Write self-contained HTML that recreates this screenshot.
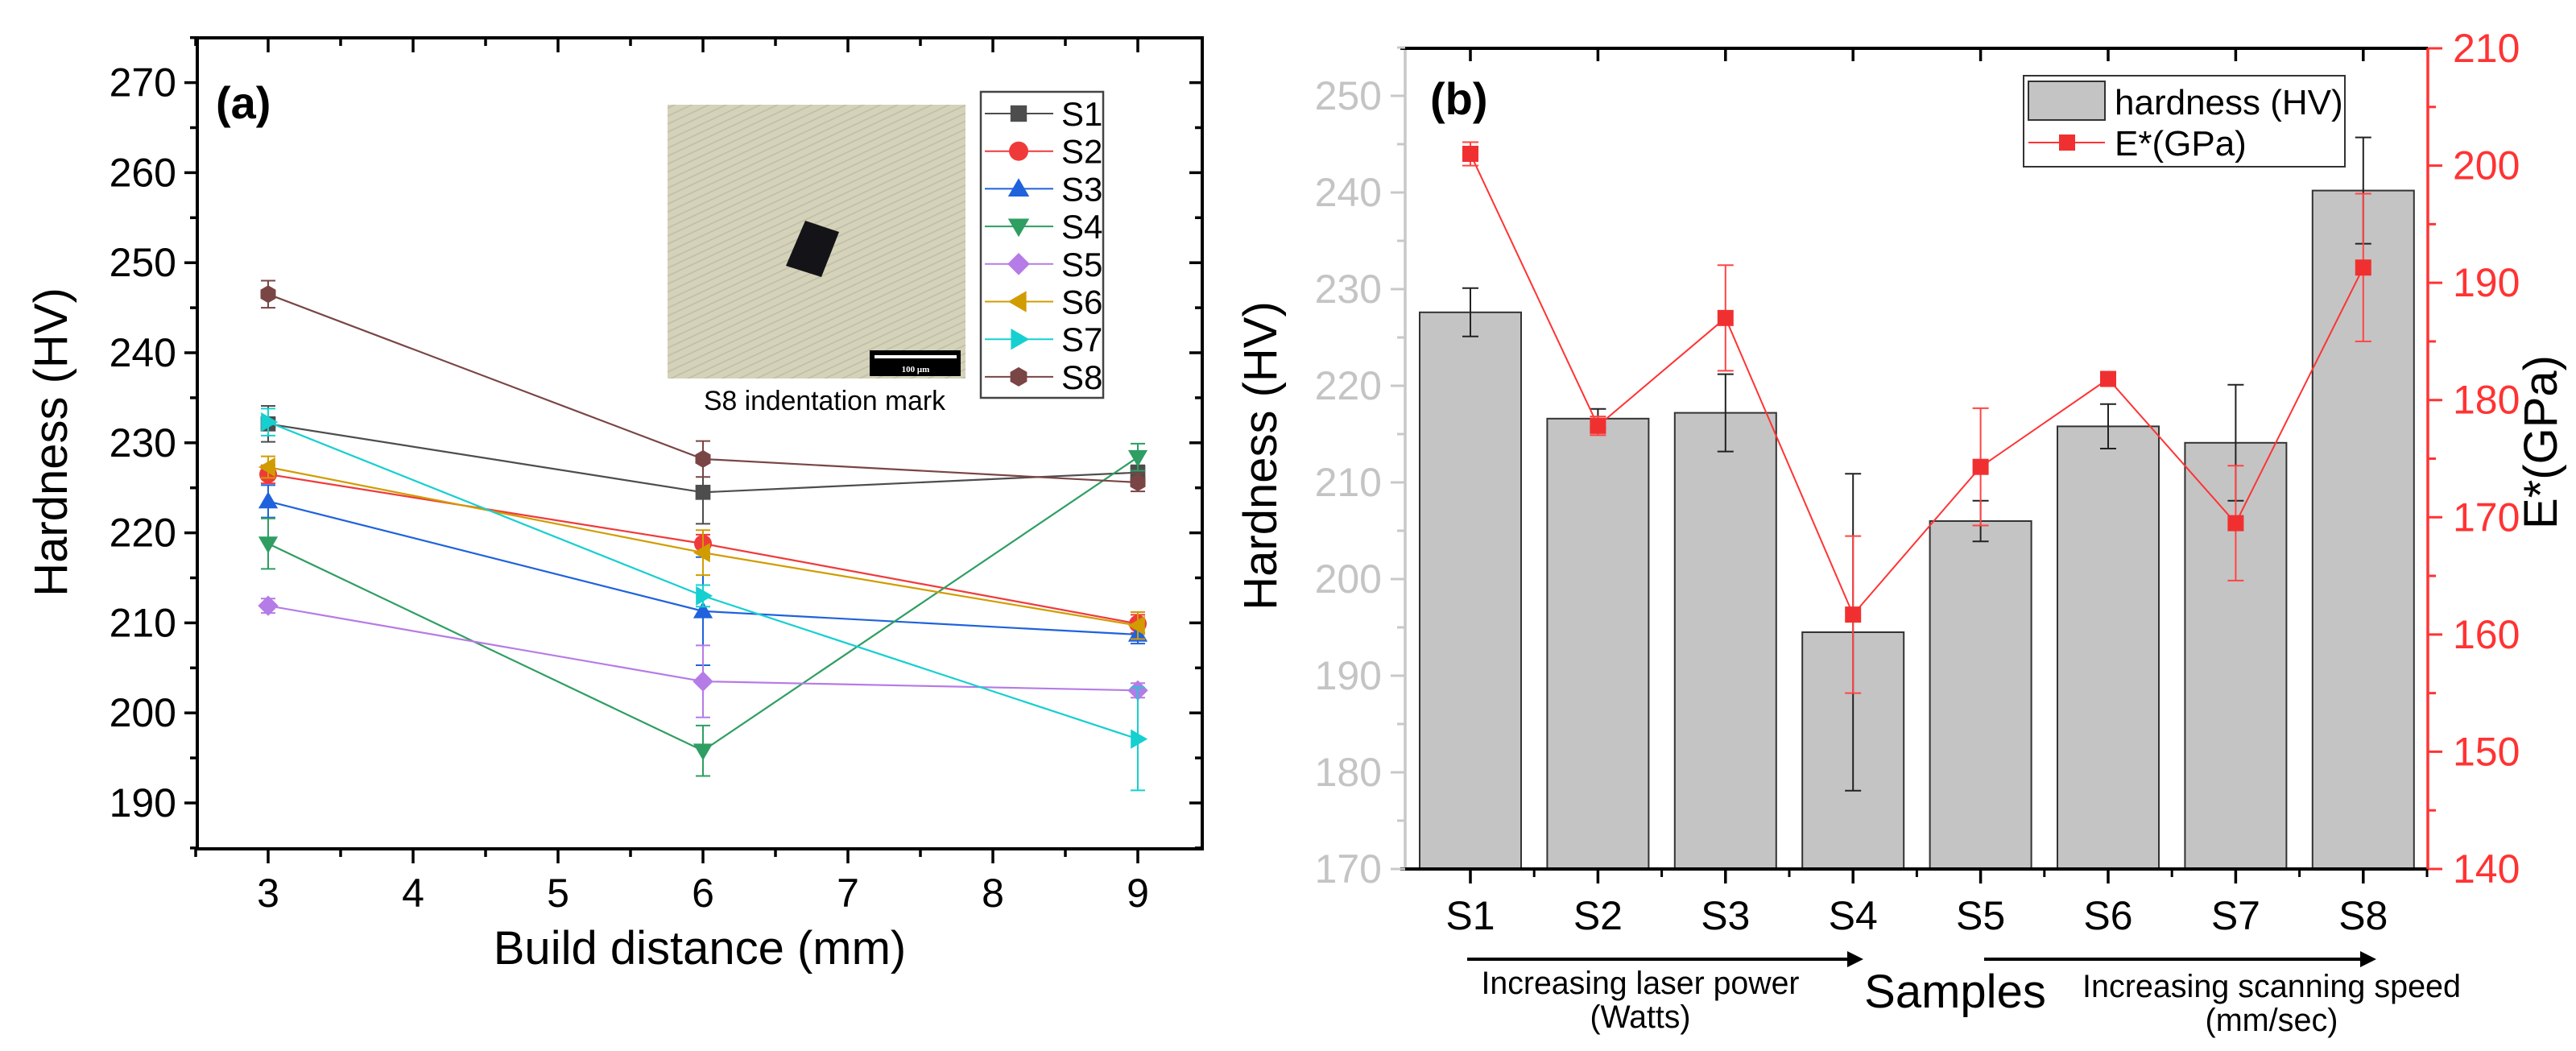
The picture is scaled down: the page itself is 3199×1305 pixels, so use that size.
<!DOCTYPE html>
<html><head><meta charset="utf-8"><style>
html,body{margin:0;padding:0;background:#fff;}
svg{display:block;font-family:"Liberation Sans",Arial,sans-serif;}
</style></head>
<body>
<svg id="fig" width="3199" height="1305" viewBox="0 0 3199 1305" xmlns="http://www.w3.org/2000/svg">
<defs>
<pattern id="tex" width="14" height="9" patternUnits="userSpaceOnUse" patternTransform="rotate(-25)">
<rect width="14" height="9" fill="#d2d0b6"/>
<line x1="0" y1="4" x2="14" y2="4" stroke="#aaa89a" stroke-width="1.5"/>
</pattern>
</defs>
<g id="pa"></g>
<g id="pb"></g>
</svg>
<script>
// ---------- Panel (a) data ----------
const distances = [3, 6, 9];
const seriesNames = ['S1','S2','S3','S4','S5','S6','S7','S8'];
const s1 = [232.1, 224.5, 226.7];
const s2 = [226.5, 218.8, 209.9];
const s3 = [223.5, 211.3, 208.7];
const s4 = [218.8, 195.8, 228.4];
const s5 = [211.9, 203.5, 202.5];
const s6 = [227.3, 217.8, 209.7];
const s7 = [232.3, 213.0, 197.1];
const s8 = [246.5, 228.2, 225.6];
const s1Err = [2, 3.5, 0.8];
const s2Err = [1, 1, 1];
const s3Err = [1.8, 6, 1];
const s4Err = [2.8, 2.8, 1.5];
const s5Err = [0.8, 4, 0.8];
const s6Err = [1.2, 2.5, 1.5];
const s7Err = [1.5, 1.2, 5.7];
const s8Err = [1.5, 2, 1];
const aYTicks = [190, 200, 210, 220, 230, 240, 250, 260, 270];
const aXTicks = [3, 4, 5, 6, 7, 8, 9];
// ---------- Panel (b) data ----------
const samples = ['S1','S2','S3','S4','S5','S6','S7','S8'];
const hardness = [227.6, 216.6, 217.2, 194.5, 206.0, 215.8, 214.1, 240.2];
const hardnessErr = [2.5, 1.0, 4.0, 16.4, 2.1, 2.3, 6.0, 5.5];
const modulus = [201.0, 177.8, 187.0, 161.7, 174.3, 181.8, 169.5, 191.3];
const modulusErr = [1.0, 0.8, 4.5, 6.7, 5.0, 0.6, 4.9, 6.3];
const bLeftTicks = [170, 180, 190, 200, 210, 220, 230, 240, 250];
const bRightTicks = [140, 150, 160, 170, 180, 190, 200, 210];

const NS = 'http://www.w3.org/2000/svg';
function mk(parent, tag, attrs, text){
  const e = document.createElementNS(NS, tag);
  for (const k in attrs) e.setAttribute(k, attrs[k]);
  if (text !== undefined) e.textContent = text;
  parent.appendChild(e);
  return e;
}
const pa = document.getElementById('pa');
const pb = document.getElementById('pb');

// ---------- Panel (a) ----------
const AL=245, AR=1493, AT=47, AB=1054;
const ax = v => 333 + (v-3)*180;
const ay = v => 997 - (v-190)*11.18;
let e;
e = mk(pa,'rect',{x:AL,y:AT,width:AR-AL,height:AB-AT,fill:'none',stroke:'#000','stroke-width':4});


for (let v=185; v<=275; v+=5){
  const maj = aYTicks.includes(v);
  const L = maj?16:9;
  mk(pa,'line',{x1:AL-L,y1:ay(v),x2:AL,y2:ay(v),stroke:'#000','stroke-width':3.5});
  mk(pa,'line',{x1:AR,y1:ay(v),x2:AR-L,y2:ay(v),stroke:'#000','stroke-width':3.5});
}
aYTicks.forEach(v=>{
  e = mk(pa,'text',{x:AL-26,y:ay(v)+17,'text-anchor':'end','font-size':50,fill:'#000'},String(v));
  
  
});
for (let v=2.5; v<=9.45; v+=0.5){
  const maj = Number.isInteger(v);
  const L = maj?18:10;
  mk(pa,'line',{x1:ax(v),y1:AB,x2:ax(v),y2:AB+L,stroke:'#000','stroke-width':3.5});
  mk(pa,'line',{x1:ax(v),y1:AT,x2:ax(v),y2:AT+L,stroke:'#000','stroke-width':3.5});
}
aXTicks.forEach(v=>{
  e = mk(pa,'text',{x:ax(v),y:1126,'text-anchor':'middle','font-size':50,fill:'#000'},String(v));
  
  
});
e = mk(pa,'text',{x:869,y:1197,'text-anchor':'middle','font-size':58,fill:'#000'},'Build distance (mm)');


e = mk(pa,'text',{x:0,y:0,'text-anchor':'middle','font-size':58,fill:'#000',transform:'translate(83,549) rotate(-90)'},'Hardness (HV)');


e = mk(pa,'text',{x:268,y:147,'font-size':56,'font-weight':'bold',fill:'#000'},'(a)');



// inset micrograph
const ins = mk(pa,'g',{});


mk(ins,'rect',{x:829,y:130,width:370,height:340,fill:'url(#tex)'});
mk(ins,'rect',{x:829,y:130,width:370,height:340,fill:'#d6d4ba',opacity:0.45});
mk(ins,'polygon',{points:'1000,274 1042,288 1020,344 976,330',fill:'#141418'});
mk(ins,'rect',{x:1080,y:435,width:113,height:32,fill:'#000'});
mk(ins,'line',{x1:1086,y1:443,x2:1188,y2:443,stroke:'#fff','stroke-width':4});
mk(ins,'text',{x:1137,y:462,'text-anchor':'middle','font-size':11,fill:'#fff','font-family':'Liberation Serif,serif','font-weight':'bold'},'100 μm');
e = mk(pa,'text',{x:1024,y:509,'text-anchor':'middle','font-size':34,fill:'#000',textLength:300,lengthAdjust:'spacingAndGlyphs'},'S8 indentation mark');



const colors = ['#4d4d4d','#f03a3a','#1f62dc','#2e9e62','#b57be6','#d19c00','#16cfd0','#7a4545'];
const shapes = ['square','circle','up','down','diamond','left','right','hex'];
const allSeries = [s1,s2,s3,s4,s5,s6,s7,s8];
const allErr = [s1Err,s2Err,s3Err,s4Err,s5Err,s6Err,s7Err,s8Err];
function marker(parent, shape, cx, cy, r, col){
  switch(shape){
    case 'square': return mk(parent,'rect',{x:cx-r*0.85,y:cy-r*0.85,width:r*1.7,height:r*1.7,fill:col});
    case 'circle': return mk(parent,'circle',{cx:cx,cy:cy,r:r,fill:col});
    case 'up': return mk(parent,'polygon',{points:`${cx},${cy-r*1.1} ${cx+r*1.1},${cy+r*0.8} ${cx-r*1.1},${cy+r*0.8}`,fill:col});
    case 'down': return mk(parent,'polygon',{points:`${cx},${cy+r*1.1} ${cx+r*1.1},${cy-r*0.8} ${cx-r*1.1},${cy-r*0.8}`,fill:col});
    case 'diamond': return mk(parent,'polygon',{points:`${cx},${cy-r*1.15} ${cx+r*1.15},${cy} ${cx},${cy+r*1.15} ${cx-r*1.15},${cy}`,fill:col});
    case 'left': return mk(parent,'polygon',{points:`${cx-r*1.1},${cy} ${cx+r*0.8},${cy-r*1.1} ${cx+r*0.8},${cy+r*1.1}`,fill:col});
    case 'right': return mk(parent,'polygon',{points:`${cx+r*1.1},${cy} ${cx-r*0.8},${cy-r*1.1} ${cx-r*0.8},${cy+r*1.1}`,fill:col});
    case 'hex': {
      let p=[]; for(let i=0;i<6;i++){const a=Math.PI/6+i*Math.PI/3; p.push((cx+r*Math.cos(a)).toFixed(1)+','+(cy+r*Math.sin(a)).toFixed(1));}
      return mk(parent,'polygon',{points:p.join(' '),fill:col});
    }
  }
}
allSeries.forEach((vals,si)=>{
  const g = mk(pa,'g',{});
  
  
  const col = colors[si];
  const pts = vals.map((v,i)=>ax(distances[i])+','+ay(v)).join(' ');
  mk(g,'polyline',{points:pts,fill:'none',stroke:col,'stroke-width':2.2});
  vals.forEach((v,i)=>{
    const x=ax(distances[i]), er=allErr[si][i];
    mk(g,'line',{x1:x,y1:ay(v+er),x2:x,y2:ay(v-er),stroke:col,'stroke-width':2});
    mk(g,'line',{x1:x-9,y1:ay(v+er),x2:x+9,y2:ay(v+er),stroke:col,'stroke-width':2});
    mk(g,'line',{x1:x-9,y1:ay(v-er),x2:x+9,y2:ay(v-er),stroke:col,'stroke-width':2});
    const m = marker(g, shapes[si], x, ay(v), 11, col);
    
    
  });
});
// legend a
const lg = mk(pa,'g',{});


mk(lg,'rect',{x:1218,y:114,width:152,height:380,fill:'#fff',stroke:'#444','stroke-width':2.5});
seriesNames.forEach((nm,si)=>{
  const y = 141 + si*46.7;
  const ent = mk(lg,'g',{});
  
  
  mk(ent,'line',{x1:1223,y1:y,x2:1308,y2:y,stroke:colors[si],'stroke-width':2});
  marker(ent, shapes[si], 1265, y, 12, colors[si]);
  mk(ent,'text',{x:1318,y:y+15,'font-size':42,fill:'#000'},nm);
});

// ---------- Panel (b) ----------
const BL=1745, BR=3015, BT=60, BB=1079;
const bx = i => 1826 + i*158.4;
const byL = v => BB - (v-170)*12;
const byR = v => BB - (v-140)*(BB-BT)/70;
// bars
hardness.forEach((v,i)=>{
  e = mk(pb,'rect',{x:bx(i)-63,y:byL(v),width:126,height:BB-byL(v),fill:'#c4c4c4',stroke:'#333','stroke-width':2});
  
  
});
hardness.forEach((v,i)=>{
  const g = mk(pb,'g',{});
  
  
  const x=bx(i), er=hardnessErr[i];
  mk(g,'line',{x1:x,y1:byL(v+er),x2:x,y2:byL(v-er),stroke:'#222','stroke-width':2});
  mk(g,'line',{x1:x-10,y1:byL(v+er),x2:x+10,y2:byL(v+er),stroke:'#222','stroke-width':2});
  mk(g,'line',{x1:x-10,y1:byL(v-er),x2:x+10,y2:byL(v-er),stroke:'#222','stroke-width':2});
});
// modulus line
const ml = mk(pb,'g',{});


mk(ml,'polyline',{points:modulus.map((v,i)=>bx(i)+','+byR(v)).join(' '),fill:'none',stroke:'#f33','stroke-width':2});
modulus.forEach((v,i)=>{
  const x=bx(i), er=modulusErr[i];
  mk(ml,'line',{x1:x,y1:byR(v+er),x2:x,y2:byR(v-er),stroke:'#f44','stroke-width':2});
  mk(ml,'line',{x1:x-10,y1:byR(v+er),x2:x+10,y2:byR(v+er),stroke:'#f44','stroke-width':2});
  mk(ml,'line',{x1:x-10,y1:byR(v-er),x2:x+10,y2:byR(v-er),stroke:'#f44','stroke-width':2});
  e = mk(ml,'rect',{x:x-10,y:byR(v)-10,width:20,height:20,fill:'#f03030'});
  
  
});
// axes
mk(pb,'line',{x1:BL,y1:BT,x2:BL,y2:BB,stroke:'#c8c8c8','stroke-width':3.5});
mk(pb,'line',{x1:BL-6,y1:BT,x2:BR,y2:BT,stroke:'#000','stroke-width':4});
mk(pb,'line',{x1:BL-6,y1:BB,x2:BR,y2:BB,stroke:'#000','stroke-width':4});
mk(pb,'line',{x1:BR,y1:BT,x2:BR,y2:BB,stroke:'#f33','stroke-width':3.5});
for (let v=170; v<=255; v+=5){
  const maj = bLeftTicks.includes(v);
  mk(pb,'line',{x1:BL-(maj?18:10),y1:byL(v),x2:BL,y2:byL(v),stroke:'#c8c8c8','stroke-width':3});
}
bLeftTicks.forEach(v=>{
  e = mk(pb,'text',{x:1716,y:byL(v)+17,'text-anchor':'end','font-size':50,fill:'#c4c4c4'},String(v));
  
  
});
for (let v=140; v<=210; v+=5){
  const maj = bRightTicks.includes(v);
  mk(pb,'line',{x1:BR,y1:byR(v),x2:BR+(maj?18:10),y2:byR(v),stroke:'#f33','stroke-width':3});
}
bRightTicks.forEach(v=>{
  e = mk(pb,'text',{x:3046,y:byR(v)+17,'font-size':50,fill:'#f33'},String(v));
  
  
});
samples.forEach((s,i)=>{
  mk(pb,'line',{x1:bx(i),y1:BB,x2:bx(i),y2:BB+18,stroke:'#000','stroke-width':3.5});
  mk(pb,'line',{x1:bx(i)+79.2,y1:BB,x2:bx(i)+79.2,y2:BB+10,stroke:'#000','stroke-width':3});
  mk(pb,'line',{x1:bx(i),y1:BT,x2:bx(i),y2:BT+16,stroke:'#000','stroke-width':3.5});
  e = mk(pb,'text',{x:bx(i),y:1154,'text-anchor':'middle','font-size':50,fill:'#000'},s);
  
  
});
e = mk(pb,'text',{x:1776,y:142,'font-size':56,'font-weight':'bold',fill:'#000'},'(b)');


e = mk(pb,'text',{x:0,y:0,'text-anchor':'middle','font-size':58,fill:'#000',transform:'translate(1585,566) rotate(-90)'},'Hardness (HV)');


e = mk(pb,'text',{x:0,y:0,'text-anchor':'middle','font-size':58,fill:'#000',transform:'translate(3175,549) rotate(-90)'},'E*(GPa)');


e = mk(pb,'text',{x:2428,y:1251,'text-anchor':'middle','font-size':58,fill:'#000'},'Samples');


// arrows
[[1822,2314],[2464,2951]].forEach((a,k)=>{
  const g = mk(pb,'g',{});
  
  
  mk(g,'line',{x1:a[0],y1:1191,x2:a[1]-14,y2:1191,stroke:'#000','stroke-width':4});
  mk(g,'polygon',{points:`${a[1]},1191 ${a[1]-20},1181 ${a[1]-20},1201`,fill:'#000'});
});
e = mk(pb,'text',{x:2037,y:1234,'text-anchor':'middle','font-size':40,fill:'#000',textLength:395,lengthAdjust:'spacingAndGlyphs'},'Increasing laser power');


e = mk(pb,'text',{x:2037,y:1276,'text-anchor':'middle','font-size':40,fill:'#000',textLength:125,lengthAdjust:'spacingAndGlyphs'},'(Watts)');


e = mk(pb,'text',{x:2821,y:1238,'text-anchor':'middle','font-size':40,fill:'#000',textLength:470,lengthAdjust:'spacingAndGlyphs'},'Increasing scanning speed');


e = mk(pb,'text',{x:2821,y:1280,'text-anchor':'middle','font-size':40,fill:'#000',textLength:165,lengthAdjust:'spacingAndGlyphs'},'(mm/sec)');


// legend b
const lb = mk(pb,'g',{});


mk(lb,'rect',{x:2513,y:94,width:399,height:113,fill:'#fff',stroke:'#333','stroke-width':2});
const le1 = mk(lb,'g',{});


mk(le1,'rect',{x:2519,y:101,width:95,height:48,fill:'#c4c4c4',stroke:'#333','stroke-width':2});
mk(le1,'text',{x:2626,y:142,'font-size':44,fill:'#000'},'hardness (HV)');
const le2 = mk(lb,'g',{});


mk(le2,'line',{x1:2519,y1:177,x2:2614,y2:177,stroke:'#f33','stroke-width':2});
mk(le2,'rect',{x:2557,y:167,width:20,height:20,fill:'#f03030'});
mk(le2,'text',{x:2626,y:193,'font-size':44,fill:'#000'},'E*(GPa)');
</script>
</body></html>
